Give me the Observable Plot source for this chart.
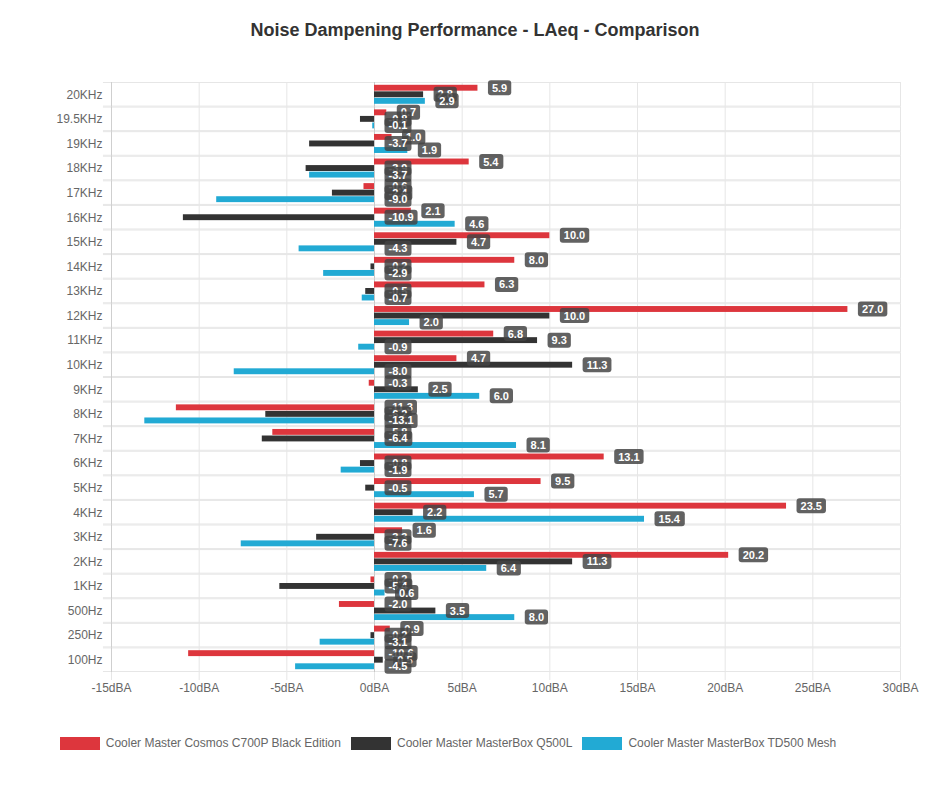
<!DOCTYPE html>
<html>
<head>
<meta charset="utf-8">
<script src="https://cdn.jsdelivr.net/npm/d3@7"></script>
<script src="https://cdn.jsdelivr.net/npm/@observablehq/plot@0.6"></script>
<style>
  html, body { margin: 0; padding: 0; background: #fff; }
  body { width: 950px; font-family: 'Liberation Sans', Arial, Helvetica, sans-serif; }
  #title { height: 60px; line-height: 60px; text-align: center; font-weight: bold; font-size: 18px; color: #333; }
  #chart svg { display: block; }
  #legend { display: flex; justify-content: center; align-items: center; margin-top: 26px; font-size: 12px; color: #666; padding-right: 54px; }
  #legend .item { display: flex; align-items: center; margin: 0 5px; }
  #legend .sw { display: inline-block; width: 38px; height: 11px; margin-right: 6px; border: 1px solid; }
</style>
</head>
<body>
<div id="title">Noise Dampening Performance - LAeq - Comparison</div>
<div id="chart"></div>
<div id="legend"></div>
<script>
const freqs = ["20KHz","19.5KHz","19KHz","18KHz","17KHz","16KHz","15KHz","14KHz","13KHz","12KHz","11KHz","10KHz","9KHz","8KHz","7KHz","6KHz","5KHz","4KHz","3KHz","2KHz","1KHz","500Hz","250Hz","100Hz"];
const seriesNames = ["Cooler Master Cosmos C700P Black Edition","Cooler Master MasterBox Q500L","Cooler Master MasterBox TD500 Mesh"];
const seriesColors = ["#dd363d","#333333","#22aad4"];
const c700p = [5.9,0.7,1.0,5.4,-0.6,2.1,10.0,8.0,6.3,27.0,6.8,4.7,-0.3,-11.3,-5.8,13.1,9.5,23.5,1.6,20.2,-0.2,-2.0,0.9,-10.6];
const q500l = [2.8,-0.8,-3.7,-3.9,-2.4,-10.9,4.7,-0.2,-0.5,10.0,9.3,11.3,2.5,-6.2,-6.4,-0.8,-0.5,2.2,-3.3,11.3,-5.4,3.5,-0.2,0.5];
const td500 = [2.9,-0.1,1.9,-3.7,-9.0,4.6,-4.3,-2.9,-0.7,2.0,-0.9,-8.0,6.0,-13.1,8.1,-1.9,5.7,15.4,-7.6,6.4,0.6,8.0,-3.1,-4.5];
const xTicks = [-15,-10,-5,0,5,10,15,20,25,30];

const seriesValues = [c700p, q500l, td500];
const data = [];
seriesValues.forEach((vals, s) => vals.forEach((v, i) => data.push({freq: freqs[i], series: seriesNames[s], si: s, v})));

const W = 950, H = 650, mT = 22, mB = 38, mL = 111, mR = 50;
const FH = (H - mT - mB) / freqs.length;
const font = "'Liberation Sans', Arial, Helvetica, sans-serif";

const chart = Plot.plot({
  width: W, height: H,
  marginTop: mT, marginBottom: mB, marginLeft: mL, marginRight: mR,
  style: {fontFamily: font, fontSize: "12px", color: "#666", background: "#fff", overflow: "visible"},
  x: {domain: [-15, 30]},
  y: {domain: seriesNames, axis: null, paddingInner: 0.1, paddingOuter: 0.425, round: false},
  fy: {domain: freqs, padding: 0, label: null, round: false},
  color: {domain: seriesNames, range: seriesColors},
  marks: [
    Plot.gridX({ticks: xTicks, stroke: "#e6e6e6", strokeOpacity: 1}),
    Plot.barX([0], {x1: -15.46, x2: 30, fill: "#e6e6e6", insetBottom: FH - 1}),
    Plot.barX([0], {x1: -15.46, x2: 30, fill: "#e6e6e6", insetTop: FH - 1}),
    Plot.ruleX([-15], {stroke: "#cfcfcf"}),
    Plot.ruleX([0], {stroke: "#c8c8c8"}),
    Plot.barX(data, {x: "v", y: "series", fy: "freq", fill: "series"}),
    Plot.text(data, {
      x: d => Math.max(0, d.v), y: "series", fy: "freq",
      text: d => d.v.toFixed(1), ariaLabel: d => "lbl" + d.si,
      dx: 14, textAnchor: "start", fill: "white", fontWeight: "bold", fontSize: 11, fontFamily: font
    }),
    Plot.axisX({ticks: xTicks, tickFormat: d => d + "dBA", tickSize: 8, tickPadding: 3, stroke: "#e6e6e6", fill: "#666", label: null, fontSize: 12}),
    Plot.axisFy({anchor: "left", tickSize: 0, tickPadding: 9, fill: "#666", label: null, fontSize: 12})
  ]
});
document.getElementById("chart").append(chart);

// rounded label backgrounds, drawn series by series on top of everything
const svg = chart.tagName.toLowerCase() === "svg" ? chart : chart.querySelector("svg");
const ns = "http://www.w3.org/2000/svg";
const labels = [...svg.querySelectorAll('text[aria-label^="lbl"]')];
const measured = labels.map(t => ({t, s: +t.getAttribute("aria-label").slice(3), m: t.getCTM(), bb: t.getBBox()}));
measured.sort((a, b) => a.s - b.s);
const layer = document.createElementNS(ns, "g");
layer.setAttribute("fill", "white");
layer.setAttribute("font-size", "11");
layer.setAttribute("font-weight", "bold");
layer.setAttribute("font-family", font);
layer.setAttribute("text-anchor", "start");
svg.appendChild(layer);
for (const {t, m, bb} of measured) {
  const g = document.createElementNS(ns, "g");
  g.setAttribute("transform", `matrix(${m.a},${m.b},${m.c},${m.d},${m.e},${m.f})`);
  const r = document.createElementNS(ns, "rect");
  r.setAttribute("x", bb.x - 4);
  r.setAttribute("y", bb.y - 1.5);
  r.setAttribute("width", bb.width + 8);
  r.setAttribute("height", bb.height + 3);
  r.setAttribute("rx", 3);
  r.setAttribute("fill", "rgba(68,68,68,0.84)");
  t.removeAttribute("transform");
  g.appendChild(r);
  g.appendChild(t);
  layer.appendChild(g);
}

const legend = document.getElementById("legend");
seriesNames.forEach((name, i) => {
  const it = document.createElement("div");
  it.className = "item";
  const sw = document.createElement("span");
  sw.className = "sw";
  sw.style.background = seriesColors[i];
  sw.style.borderColor = seriesColors[i];
  it.appendChild(sw);
  it.appendChild(document.createTextNode(name));
  legend.appendChild(it);
});
</script>
</body>
</html>
